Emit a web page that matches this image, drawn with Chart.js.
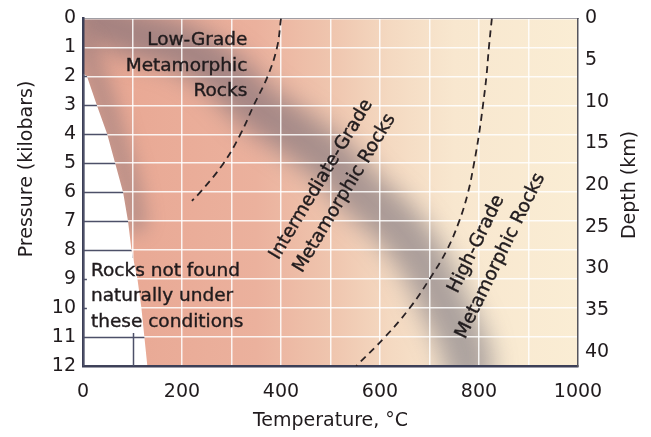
<!DOCTYPE html>
<html>
<head>
<meta charset="utf-8">
<script src="https://cdn.jsdelivr.net/npm/chart.js@4.4.0/dist/chart.umd.min.js"></script>
<style>
  html, body { margin: 0; padding: 0; background: #fff; }
  #wrap { width: 651px; height: 437px; }
</style>
</head>
<body>
<div id="wrap"><canvas id="chart"></canvas></div>
<script>
// axes
const tempTicks = [0, 200, 400, 600, 800, 1000];
const tempGrid = [0, 100, 200, 300, 400, 500, 600, 700, 800, 900, 1000];
const pressureTicks = [0, 1, 2, 3, 4, 5, 6, 7, 8, 9, 10, 11, 12];
const depthTicks = [0, 5, 10, 15, 20, 25, 30, 35, 40];
const depthMax = 41.7;

// dashed boundary low / intermediate grade
const lowIntTemp = [400, 392, 373, 345, 318, 284, 237, 220];
const lowIntPress = [0, 1, 2, 3, 4, 5, 6, 6.3];

// dashed boundary intermediate / high grade
const intHighTemp = [826, 820, 815, 808, 800, 790, 778, 760, 735, 700, 660, 610, 552];
const intHighPress = [0, 1, 2, 3, 4, 5, 6, 7, 8, 9, 10, 11, 12];

// grey band across the diagram
const bandTemp = [20, 100, 200, 290, 348, 432, 507, 560, 625, 672, 706, 733, 763, 780];
const bandPress = [0, 0.5, 1, 2, 3, 4, 5, 6, 7, 8, 9, 10, 11, 12];

// shadow along the "not found" area
const edgeTemp = [0, 25, 45, 62, 80, 95, 105];
const edgePress = [1, 2, 3, 4, 5, 6, 7];

// area where rocks are not found
const voidTemp = [0, 8, 28, 49, 65, 81, 91, 98, 110, 118, 124, 130, 0];
const voidPress = [1.9, 2, 3, 4, 5, 6, 7, 8, 9, 10, 11, 12, 12];

const regionLabels = [
    { lines: ['Low-Grade', 'Metamorphic', 'Rocks'], t: 332, p: 0.92, align: 'right', angle: 0 },
    { lines: ['Intermediate-Grade', 'Metamorphic Rocks'], t: 505, p: 5.8, align: 'center', angle: -59 },
    { lines: ['High-Grade', 'Metamorphic Rocks'], t: 819, p: 8.0, align: 'center', angle: -64 },
    { lines: ['Rocks not found', 'naturally under', 'these conditions'], t: 16, p: 8.89, align: 'left', angle: 0 }
];

const FONT = 'DejaVu Sans';
const TEXT = '#201b1d';
const pts = (xs, ys) => xs.map((x, i) => ({ x: x, y: ys[i] }));

let notFoundBox = null;

const diagramPlugin = {
    id: 'diagram',
    beforeDraw(chart) {
        const { ctx, chartArea: a } = chart;
        const g = ctx.createLinearGradient(a.left, 0, a.right, 0);
        g.addColorStop(0, '#e8a692');
        g.addColorStop(0.35, '#ebb19d');
        g.addColorStop(0.5, '#efc5ae');
        g.addColorStop(0.62, '#f4d9c1');
        g.addColorStop(0.75, '#f8e7cf');
        g.addColorStop(1, '#faedd4');
        ctx.save();
        ctx.fillStyle = g;
        ctx.fillRect(a.left, a.top, a.right - a.left, a.bottom - a.top);
        ctx.restore();
    },
    beforeDatasetDraw(chart, args) {
        const ds = chart.data.datasets[args.index];
        if (ds.onTop) return false;
        if (ds.blur) {
            chart.ctx.save();
            chart.ctx.filter = 'blur(' + ds.blur + 'px)';
        }
    },
    afterDatasetDraw(chart, args) {
        if (chart.data.datasets[args.index].blur) chart.ctx.restore();
    },
    afterDraw(chart) {
        const { ctx, chartArea: a } = chart;
        const xs = chart.scales.x, ys = chart.scales.y;

        // labels
        ctx.save();
        ctx.font = '18.5px "' + FONT + '"';
        ctx.fillStyle = TEXT;
        ctx.strokeStyle = TEXT;
        ctx.lineWidth = 0.4;
        regionLabels.forEach(l => {
            const x = xs.getPixelForValue(l.t);
            const y = ys.getPixelForValue(l.p);
            const lh = l.angle ? 27 : 25.5;
            ctx.save();
            ctx.translate(x, y);
            ctx.rotate(l.angle * Math.PI / 180);
            ctx.textAlign = l.align;
            ctx.textBaseline = l.angle ? 'middle' : 'alphabetic';
            l.lines.forEach((t, i) => {
                const off = l.angle ? (i - (l.lines.length - 1) / 2) * lh : i * lh;
                ctx.fillText(t, 0, off);
                ctx.strokeText(t, 0, off);
            });
            ctx.restore();
            if (l.align === 'left') {
                const w = Math.max(...l.lines.map(t => ctx.measureText(t).width));
                notFoundBox = { x: x - 4, y: y - 18, w: w + 8, h: lh * (l.lines.length - 1) + 24 };
            }
        });
        ctx.restore();

        // dark grid inside the white area
        const meta = chart.getDatasetMeta(chart.data.datasets.findIndex(d => d.voidArea));
        ctx.save();
        ctx.beginPath();
        meta.data.forEach((p, i) => i ? ctx.lineTo(p.x, p.y) : ctx.moveTo(p.x, p.y));
        ctx.closePath();
        ctx.clip();
        if (notFoundBox) {
            ctx.beginPath();
            ctx.rect(0, 0, chart.width, chart.height);
            ctx.rect(notFoundBox.x, notFoundBox.y, notFoundBox.w, notFoundBox.h);
            ctx.clip('evenodd');
        }
        ctx.strokeStyle = '#4d5068';
        ctx.lineWidth = 1.5;
        ctx.beginPath();
        pressureTicks.forEach(v => {
            const y = Math.round(ys.getPixelForValue(v)) + 0.5;
            ctx.moveTo(a.left, y); ctx.lineTo(a.right, y);
        });
        tempGrid.forEach(v => {
            const x = Math.round(xs.getPixelForValue(v)) + 0.5;
            ctx.moveTo(x, a.top); ctx.lineTo(x, a.bottom);
        });
        ctx.stroke();
        ctx.restore();

        // dashed boundaries above the grid
        ctx.save();
        ctx.beginPath();
        ctx.rect(a.left, a.top, a.right - a.left, a.bottom - a.top);
        ctx.clip();
        chart.data.datasets.forEach((d, i) => {
            if (d.onTop) chart.getDatasetMeta(i).dataset.draw(ctx, a);
        });
        ctx.restore();

        // vertical axis titles
        [['Pressure (kilobars)', 27, 169], ['Depth (km)', 630, 185]].forEach(t => {
            ctx.save();
            ctx.font = '19px "' + FONT + '"';
            ctx.fillStyle = TEXT;
            ctx.textAlign = 'center';
            ctx.textBaseline = 'middle';
            ctx.translate(t[1], t[2]);
            ctx.rotate(-Math.PI / 2);
            ctx.fillText(t[0], 0, 0);
            ctx.restore();
        });
    }
};

const line = {
    showLine: true,
    pointRadius: 0,
    pointHoverRadius: 0,
    fill: false
};

new Chart(document.getElementById('chart'), {
    type: 'scatter',
    data: {
        datasets: [
            Object.assign({}, line, {
                data: pts(lowIntTemp, lowIntPress),
                borderColor: '#2a2224', borderWidth: 1.8, borderDash: [7, 5],
                tension: 0.4, onTop: true, order: 1
            }),
            Object.assign({}, line, {
                data: pts(intHighTemp, intHighPress),
                borderColor: '#2a2224', borderWidth: 1.8, borderDash: [7, 5],
                tension: 0.4, onTop: true, order: 1
            }),
            Object.assign({}, line, {
                data: pts(voidTemp, voidPress),
                borderColor: '#ffffff', borderWidth: 0, backgroundColor: '#ffffff',
                fill: 'shape', tension: 0, clip: 0, voidArea: true, order: 3
            }),
            Object.assign({}, line, {
                data: pts(edgeTemp, edgePress),
                borderColor: 'rgba(100,96,112,0.35)', borderWidth: 24,
                borderCapStyle: 'round', borderJoinStyle: 'round',
                tension: 0.4, clip: 0, blur: 9, order: 4
            }),
            Object.assign({}, line, {
                data: pts(bandTemp, bandPress),
                borderColor: 'rgba(98,94,110,0.5)', borderWidth: 48,
                borderCapStyle: 'round', borderJoinStyle: 'round',
                tension: 0.4, clip: 0, blur: 12, order: 5
            })
        ]
    },
    options: {
        responsive: true,
        maintainAspectRatio: false,
        animation: false,
        events: [],
        layout: { padding: 0 },
        plugins: { legend: { display: false }, tooltip: { enabled: false } },
        scales: {
            x: {
                type: 'linear', position: 'bottom', min: 0, max: 1000,
                afterBuildTicks: s => { s.ticks = tempGrid.map(v => ({ value: v })); },
                afterFit: s => { s.height = 71; },
                ticks: {
                    autoSkip: false, maxRotation: 0, padding: 15, color: TEXT,
                    font: { family: FONT, size: 19 },
                    callback: v => tempTicks.includes(v) ? v : ''
                },
                grid: { color: 'rgba(255,255,255,0.85)', lineWidth: 1.5, drawTicks: false, z: 1 },
                border: { color: '#3c3f57', width: 2.5, z: 2 },
                title: {
                    display: true, text: 'Temperature, °C', color: TEXT,
                    font: { family: FONT, size: 19 }, padding: { top: 0, bottom: 5 }
                }
            },
            x2: {
                type: 'linear', position: 'top', min: 0, max: 1000,
                afterFit: s => { s.height = 15; },
                ticks: { display: false },
                grid: { display: false, drawTicks: false },
                border: { color: '#a09ea4', width: 1, z: 2 }
            },
            y: {
                type: 'linear', position: 'left', min: 0, max: 12, reverse: true,
                afterBuildTicks: s => { s.ticks = pressureTicks.map(v => ({ value: v })); },
                afterFit: s => { s.width = 83; },
                ticks: {
                    autoSkip: false, padding: 7, color: TEXT,
                    font: { family: FONT, size: 19 }
                },
                grid: { color: 'rgba(255,255,255,0.85)', lineWidth: 1.5, drawTicks: false, z: 1 },
                border: { color: '#3c3f57', width: 2.5, z: 2 }
            },
            y2: {
                type: 'linear', position: 'right', min: 0, max: depthMax, reverse: true,
                afterBuildTicks: s => { s.ticks = depthTicks.map(v => ({ value: v })); },
                afterFit: s => { s.width = 73; },
                ticks: {
                    autoSkip: false, padding: 7, color: TEXT,
                    font: { family: FONT, size: 19 }
                },
                grid: { display: false, drawTicks: false },
                border: { color: '#55555c', width: 1.5, z: 2 }
            }
        }
    },
    plugins: [diagramPlugin]
});
</script>
</body>
</html>
